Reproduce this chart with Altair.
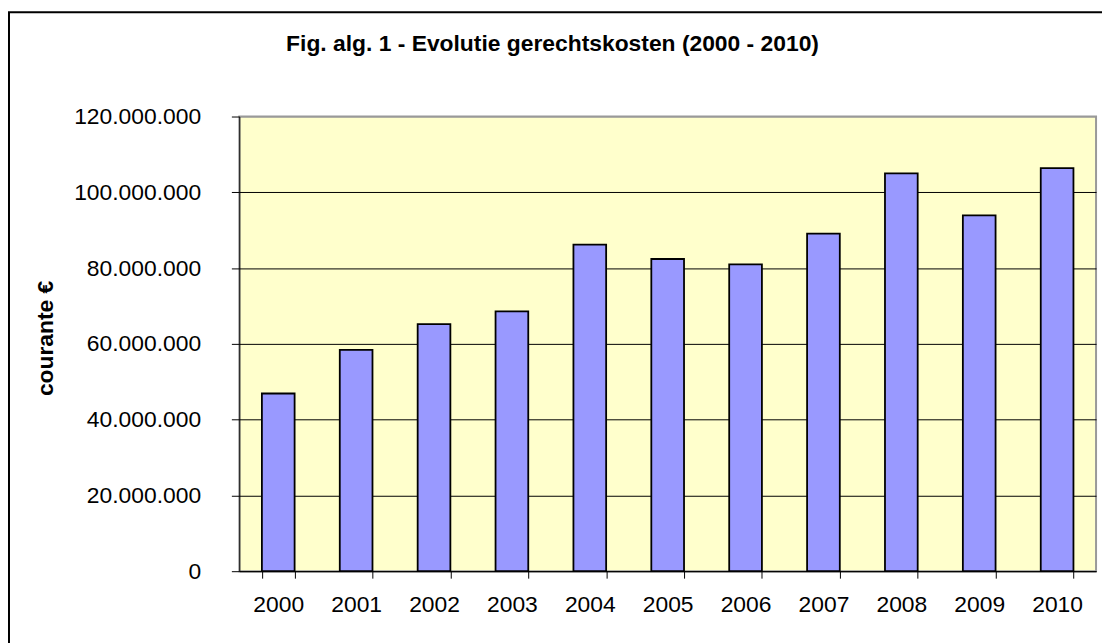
import altair as alt
import pandas as pd

years = ["2000", "2001", "2002", "2003", "2004", "2005", "2006", "2007", "2008", "2009", "2010"]
costs = [46.9e6, 58.4e6, 65.2e6, 68.6e6, 86.2e6, 82.4e6, 81.0e6, 89.1e6, 105.0e6, 93.9e6, 106.4e6]
y_ticks = [0, 20e6, 40e6, 60e6, 80e6, 100e6, 120e6]
title_text = "Fig. alg. 1 - Evolutie gerechtskosten (2000 - 2010)"
y_title = "courante €"

FONT = "Liberation Sans, Arial, sans-serif"
W, H = 863, 458

df = pd.DataFrame({"jaar": years, "kosten": costs})

bars = alt.Chart(df).mark_bar(fill="#9999FF", stroke="black", strokeWidth=1.8).encode(
    x=alt.X(
        "jaar:N",
        sort=years,
        scale=alt.Scale(paddingInner=0.58, paddingOuter=0.29),
        axis=alt.Axis(
            title=None, labelAngle=0, tickBand="extent", tickSize=7,
            tickColor="black", domainColor="black", labelColor="black",
            labelFont=FONT, labelFontSize=23, labelPadding=16, grid=False,
        ),
    ),
    y=alt.Y(
        "kosten:Q",
        scale=alt.Scale(domain=[0, 120e6], nice=False),
        axis=alt.Axis(
            values=y_ticks,
            labelExpr="replace(format(datum.value, ','), regexp(',', 'g'), '.')",
            title=y_title, titleFont=FONT, titleFontSize=23, titleFontWeight="bold",
            titleColor="black", titleAngle=270, titleX=-195, titleY=223,
            titleAlign="center", titleBaseline="middle",
            labelFont=FONT, labelFontSize=23, labelColor="black", labelPadding=31,
            tickSize=8, tickColor="black", domainColor="black",
            grid=True,
            gridColor=alt.condition("datum.value >= 120000000", alt.value("#999999"), alt.value("black")),
            gridWidth=1, gridOpacity=1,
        ),
    ),
)

frame = alt.Chart(pd.DataFrame({"f": [0]})).mark_rect(
    fillOpacity=0, stroke="black", strokeWidth=2
).encode(
    x=alt.value(-232), x2=alt.value(W + 300), y=alt.value(-105), y2=alt.value(H + 300)
)

chart = alt.layer(frame, bars).properties(
    width=W, height=H,
    title=alt.TitleParams(
        title_text, font=FONT, fontSize=23, fontWeight="bold", color="black",
        anchor="middle", frame="group", dx=-116, offset=0, dy=63, baseline="alphabetic",
    ),
    autosize=alt.AutoSizeParams(type="none"),
    padding={"left": 233, "top": 107, "right": 6, "bottom": 70},
    background="white",
).configure_view(fill="#FFFFCC", stroke="#999999", strokeWidth=2)

chart.save("out.html", embed_options={"renderer": "svg", "actions": False})
